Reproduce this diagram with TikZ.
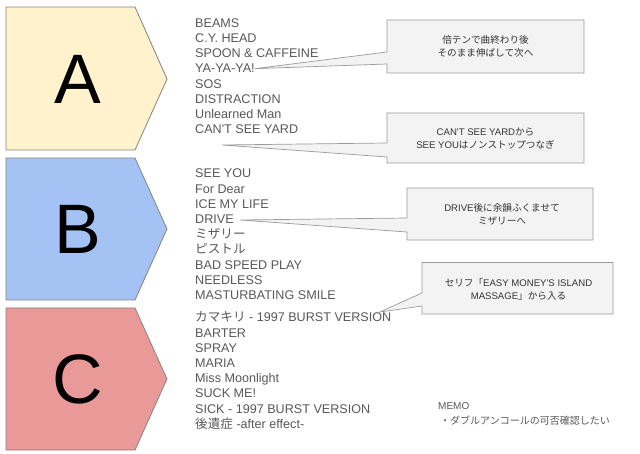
\documentclass[tikz,border=0pt]{standalone}
\usepackage{fontspec}
\newfontfamily\latin{Liberation Sans}
\newfontfamily\jp{Noto Sans CJK JP}
\definecolor{fillA}{HTML}{FFF2CC}
\definecolor{fillB}{HTML}{A4C2F4}
\definecolor{fillC}{HTML}{EA9999}
\definecolor{pentline}{HTML}{85857D}
\definecolor{boxfill}{HTML}{F3F3F3}
\definecolor{boxline}{HTML}{9A9A9A}
\definecolor{listtext}{HTML}{595959}
\definecolor{notetext}{HTML}{333333}
\begin{document}
\begin{tikzpicture}[x=1pt,y=-1pt,
  pent/.style={draw=pentline,line width=0.8pt,line join=miter},
  biglabel/.style={font=\latin\fontsize{70}{84}\selectfont,text=black,inner sep=0},
  song/.style={anchor=base west,inner sep=0,text=listtext,font=\latin\fontsize{12.6}{15}\selectfont},
  callout/.style={fill=boxfill,draw=boxline,line width=0.7pt,line join=miter},
  note/.style={align=center,text=notetext,font=\latin\fontsize{9.6}{12.8}\selectfont,inner sep=0},
  memo/.style={anchor=base west,inner sep=0,text=listtext,font=\latin\fontsize{10}{15}\selectfont}]
\useasboundingbox (0,0) rectangle (640,454);
\fill[white] (0,0) rectangle (640,454);

% pentagons
\draw[pent,fill=fillA] (6,7) -- (135,7) -- (167,79) -- (135,150) -- (6,150) -- cycle;
\draw[pent,fill=fillB] (6,158) -- (135,158) -- (167,229) -- (135,300) -- (6,300) -- cycle;
\draw[pent,fill=fillC] (6,308) -- (135,308) -- (167,379) -- (135,450) -- (6,450) -- cycle;
\node[biglabel] (LA) at (78,79) {A};
\node[biglabel] (LB) at (78,229) {B};
\node[biglabel] (LC) at (78,379) {C};

% group A
\node[song] (a1) at (195,27.4) {BEAMS};
\node[song] (a2) at (195,42.6) {C.Y. HEAD};
\node[song] (a3) at (195,57.8) {SPOON \& CAFFEINE};
\node[song] (a4) at (195,73.0) {YA-YA-YA!};
\node[song] (a5) at (195,88.2) {SOS};
\node[song] (a6) at (195,103.4) {DISTRACTION};
\node[song] (a7) at (195,118.6) {Unlearned Man};
\node[song] (a8) at (195,133.8) {CAN'T SEE YARD};

% group B
\node[song] (b1) at (195,177.9) {SEE YOU};
\node[song] (b2) at (195,193.1) {For Dear};
\node[song] (b3) at (195,208.3) {ICE MY LIFE};
\node[song] (b4) at (195,223.5) {DRIVE};
\node[song] (b5) at (195,238.7) {\jp ミザリー};
\node[song] (b6) at (195,253.9) {\jp ピストル};
\node[song] (b7) at (195,269.1) {BAD SPEED PLAY};
\node[song] (b8) at (195,284.3) {NEEDLESS};
\node[song] (b9) at (195,299.5) {MASTURBATING SMILE};

% group C
\node[song] (c1) at (195,321.9) {{\jp カマキリ} - 1997 BURST VERSION};
\node[song] (c2) at (195,337.1) {BARTER};
\node[song] (c3) at (195,352.3) {SPRAY};
\node[song] (c4) at (195,367.5) {MARIA};
\node[song] (c5) at (195,382.7) {Miss Moonlight};
\node[song] (c6) at (195,397.9) {SUCK ME!};
\node[song] (c7) at (195,413.1) {SICK - 1997 BURST VERSION};
\node[song] (c8) at (195,428.3) {{\jp 後遺症} -after effect-};

% callout tips
\coordinate (t1) at (a4.east);
\coordinate (t2) at (222,145);
\coordinate (t3) at (240,220);
\coordinate (t4) at (380,312);

% callouts
\draw[callout] (387,20) -- (584,20) -- (584,73) -- (387,73) -- (387,64) -- (t1) -- (387,52) -- cycle;
\node[note] (n1) at (485.5,46.5) {\jp 倍テンで曲終わり後\\\jp そのまま伸ばして次へ};

\draw[callout] (387,113) -- (584,113) -- (584,163) -- (387,163) -- (387,157) -- (t2) -- (387,143) -- cycle;
\node[note] (n2) at (485.5,138.5) {CAN'T SEE YARD{\jp から}\\SEE YOU{\jp はノンストップつなぎ}};

\draw[callout] (407,188) -- (593,188) -- (593,240) -- (407,240) -- (407,232) -- (t3) -- (407,218) -- cycle;
\node[note] (n3) at (502,214) {DRIVE{\jp 後に余韻ふくませて}\\\jp ミザリーへ};

\draw[callout] (422,262.5) -- (613,262.5) -- (613,314) -- (422,314) -- (422,306) -- (t4) -- (422,293) -- cycle;
\node[note] (n4) at (518.5,289) {{\jp セリフ「}EASY MONEY'S ISLAND\\MASSAGE{\jp 」から入る}};

% memo
\node[memo] (m1) at (438,409.6) {MEMO};
\node[memo] (m2) at (440,424.8) {\jp ・ダブルアンコールの可否確認したい};
\end{tikzpicture}
\end{document}
